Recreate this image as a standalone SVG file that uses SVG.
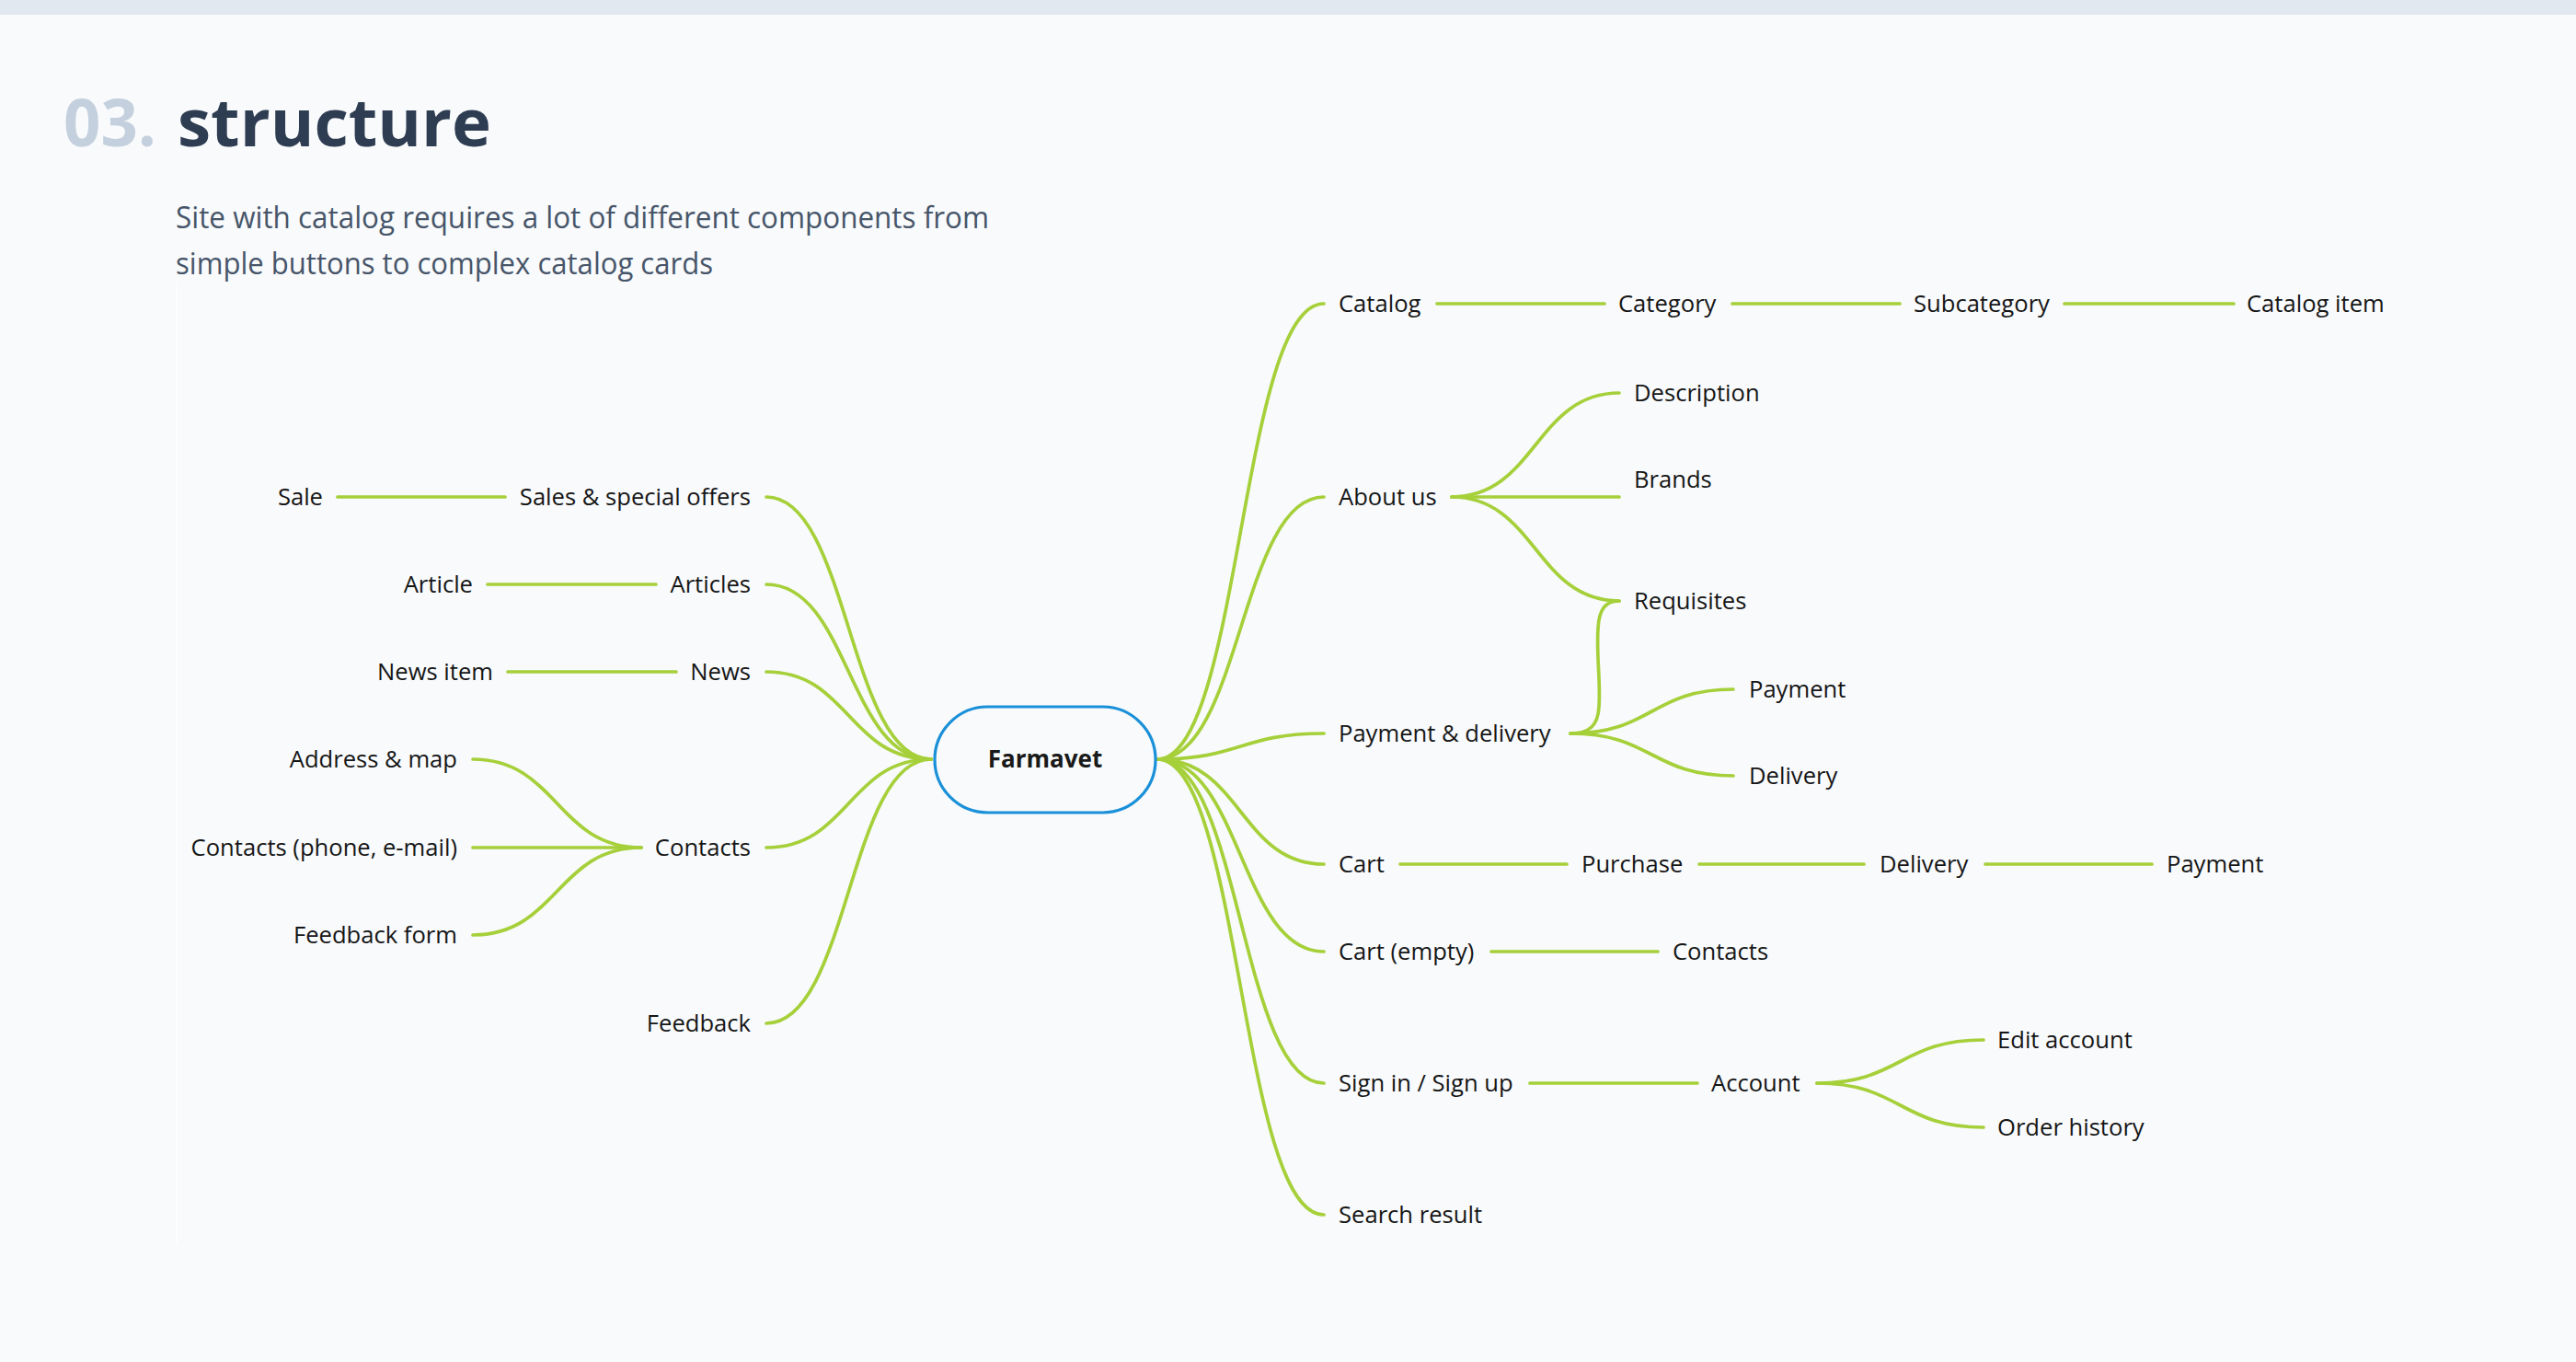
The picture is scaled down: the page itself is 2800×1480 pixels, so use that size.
<svg xmlns="http://www.w3.org/2000/svg" width="2800" height="1480" viewBox="0 0 2800 1480">
<style>
.bg{fill:#f8fafc}
.band{fill:#e2e8f0}
.num{font-family:"Open Sans","Noto Sans",sans-serif;font-weight:700;font-size:72px;fill:#c4d0dd}
.ttl{font-family:"Open Sans","Noto Sans",sans-serif;font-weight:700;font-size:72px;fill:#2f3d52}
.sub{font-family:"Open Sans","Noto Sans",sans-serif;font-size:32px;fill:#475569}
.t{font-family:"Open Sans","Noto Sans",sans-serif;font-size:25.6px;fill:#161616}
.l{text-anchor:end}
.c{fill:none;stroke:#a6d03a;stroke-width:3.7;stroke-linecap:round}
.hub{fill:#f8fafc;stroke:#1a90d9;stroke-width:3.2}
.hubt{font-family:"Open Sans","Noto Sans",sans-serif;font-weight:700;font-size:26px;fill:#1a1a1a;text-anchor:middle}
</style>
<rect class="bg" x="0" y="0" width="2800" height="1480"/>
<rect class="band" x="0" y="0" width="2800" height="16"/>
<line x1="192" y1="306" x2="192" y2="1352" stroke="#ffffff" stroke-width="1.2"/>
<g id="header">
<text class="num" x="69" y="159" textLength="101" lengthAdjust="spacingAndGlyphs">03.</text>
<text class="ttl" x="193" y="159" textLength="341" lengthAdjust="spacingAndGlyphs">structure</text>
<text class="sub" x="191" y="248" textLength="884" lengthAdjust="spacingAndGlyphs">Site with catalog requires a lot of different components from</text>
<text class="sub" x="191" y="298" textLength="584" lengthAdjust="spacingAndGlyphs">simple buttons to complex catalog cards</text>
</g>
<g id="connectors">
<path class="c" d="M833,540 C922.5,540 922.5,825 1012,825"/>
<path class="c" d="M833,635 C922.5,635 922.5,825 1012,825"/>
<path class="c" d="M833,730 C922.5,730 922.5,825 1012,825"/>
<path class="c" d="M833,921 C922.5,921 922.5,825 1012,825"/>
<path class="c" d="M833,1112 C922.5,1112 922.5,825 1012,825"/>
<path class="c" d="M367,540 H549"/>
<path class="c" d="M530,635 H713"/>
<path class="c" d="M552,730 H735"/>
<path class="c" d="M514,825 C605.5,825 605.5,921 697,921"/>
<path class="c" d="M514,921 H697"/>
<path class="c" d="M514,1016 C605.5,1016 605.5,921 697,921"/>
<path class="c" d="M1258,825 C1348.5,825 1348.5,330 1439,330"/>
<path class="c" d="M1258,825 C1348.5,825 1348.5,540 1439,540"/>
<path class="c" d="M1258,825 C1348.5,825 1348.5,797 1439,797"/>
<path class="c" d="M1258,825 C1348.5,825 1348.5,939 1439,939"/>
<path class="c" d="M1258,825 C1348.5,825 1348.5,1034 1439,1034"/>
<path class="c" d="M1258,825 C1348.5,825 1348.5,1177 1439,1177"/>
<path class="c" d="M1258,825 C1348.5,825 1348.5,1320 1439,1320"/>
<path class="c" d="M1562,330 H1744"/>
<path class="c" d="M1883,330 H2065"/>
<path class="c" d="M2244,330 H2428"/>
<path class="c" d="M1578,540 C1669,540 1669,427 1760,427"/>
<path class="c" d="M1578,540 H1760"/>
<path class="c" d="M1578,540 C1669,540 1669,653 1760,653"/>
<path class="c" d="M1707,797 C1728,797 1737,788 1738,768 C1740,740 1735,712 1737,683 C1738,662 1745,653 1760,653"/>
<path class="c" d="M1707,797 C1795.5,797 1795.5,749 1884,749"/>
<path class="c" d="M1707,797 C1795.5,797 1795.5,843 1884,843"/>
<path class="c" d="M1522,939 H1703"/>
<path class="c" d="M1847,939 H2026"/>
<path class="c" d="M2158,939 H2339"/>
<path class="c" d="M1621,1034 H1802"/>
<path class="c" d="M1663,1177 H1845"/>
<path class="c" d="M1975,1177 C2065.5,1177 2065.5,1130 2156,1130"/>
<path class="c" d="M1975,1177 C2065.5,1177 2065.5,1225 2156,1225"/>
</g>
<g id="n-farmavet"><rect class="hub" x="1016" y="768" width="240" height="115" rx="57.5"/><text class="hubt" x="1136" y="834">Farmavet</text></g>
<g id="n-sales"><text class="t l" x="816" y="549">Sales &amp; special offers</text></g>
<g id="n-sale"><text class="t l" x="351" y="549">Sale</text></g>
<g id="n-articles"><text class="t l" x="816" y="644">Articles</text></g>
<g id="n-article"><text class="t l" x="514" y="644">Article</text></g>
<g id="n-news"><text class="t l" x="816" y="739">News</text></g>
<g id="n-newsitem"><text class="t l" x="536" y="739">News item</text></g>
<g id="n-contacts-l"><text class="t l" x="816" y="930">Contacts</text></g>
<g id="n-address"><text class="t l" x="497" y="834">Address &amp; map</text></g>
<g id="n-contacts-phone"><text class="t l" x="497" y="930">Contacts (phone, e-mail)</text></g>
<g id="n-feedbackform"><text class="t l" x="497" y="1025">Feedback form</text></g>
<g id="n-feedback"><text class="t l" x="816" y="1121">Feedback</text></g>
<g id="n-catalog"><text class="t" x="1455" y="339">Catalog</text></g>
<g id="n-category"><text class="t" x="1759" y="339">Category</text></g>
<g id="n-subcategory"><text class="t" x="2080" y="339">Subcategory</text></g>
<g id="n-catalogitem"><text class="t" x="2442" y="339">Catalog item</text></g>
<g id="n-about"><text class="t" x="1455" y="549">About us</text></g>
<g id="n-description"><text class="t" x="1776" y="436">Description</text></g>
<g id="n-brands"><text class="t" x="1776" y="530">Brands</text></g>
<g id="n-requisites"><text class="t" x="1776" y="662">Requisites</text></g>
<g id="n-paydel"><text class="t" x="1455" y="806">Payment &amp; delivery</text></g>
<g id="n-payment1"><text class="t" x="1901" y="758">Payment</text></g>
<g id="n-delivery1"><text class="t" x="1901" y="852">Delivery</text></g>
<g id="n-cart"><text class="t" x="1455" y="948">Cart</text></g>
<g id="n-purchase"><text class="t" x="1719" y="948">Purchase</text></g>
<g id="n-delivery2"><text class="t" x="2043" y="948">Delivery</text></g>
<g id="n-payment2"><text class="t" x="2355" y="948">Payment</text></g>
<g id="n-cartempty"><text class="t" x="1455" y="1043">Cart (empty)</text></g>
<g id="n-contacts-r"><text class="t" x="1818" y="1043">Contacts</text></g>
<g id="n-signin"><text class="t" x="1455" y="1186">Sign in / Sign up</text></g>
<g id="n-account"><text class="t" x="1860" y="1186">Account</text></g>
<g id="n-editaccount"><text class="t" x="2171" y="1139">Edit account</text></g>
<g id="n-orderhistory"><text class="t" x="2171" y="1234">Order history</text></g>
<g id="n-search"><text class="t" x="1455" y="1329">Search result</text></g>
</svg>
